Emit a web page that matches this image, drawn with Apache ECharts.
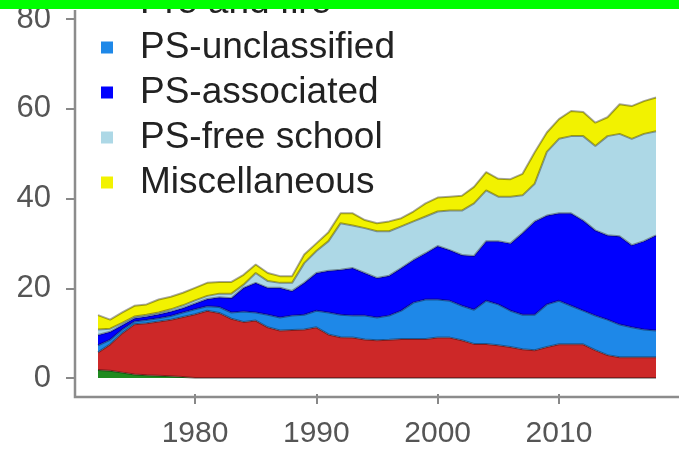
<!DOCTYPE html>
<html>
<head>
<meta charset="utf-8">
<title>Stacked areas</title>
<script src="https://cdn.jsdelivr.net/npm/echarts@6/dist/echarts.min.js"></script>
<style>
  html, body { margin: 0; padding: 0; background: #fff; }
  #chart { width: 679px; height: 449px; }
</style>
</head>
<body>
<div id="chart"></div>
<script>
// years on the x axis
const years = [
  1972, 1973, 1974, 1975, 1976, 1977, 1978, 1979, 1980, 1981,
  1982, 1983, 1984, 1985, 1986, 1987, 1988, 1989, 1990, 1991,
  1992, 1993, 1994, 1995, 1996, 1997, 1998, 1999, 2000, 2001,
  2002, 2003, 2004, 2005, 2006, 2007, 2008, 2009, 2010, 2011,
  2012, 2013, 2014, 2015, 2016, 2017, 2018
]
const yTicks = [0, 20, 40, 60, 80]
const xTicks = [1980, 1990, 2000, 2010]

// bottom layer (green), only in the first years
const greenVals = [
  1.8, 1.6, 1.2, 0.8, 0.6, 0.5, 0.4, 0.2, 0, 0,
  0, 0, 0, 0, 0, 0, 0, 0, 0, 0,
  0, 0, 0, 0, 0, 0, 0, 0, 0, 0,
  0, 0, 0, 0, 0, 0, 0, 0, 0, 0,
  0, 0, 0, 0, 0, 0, 0
]
// red layer (its legend row is cut off at the top)
const redVals = [
  3.9, 5.9, 8.8, 11.2, 11.6, 12.1, 12.6, 13.4, 14.2, 15.0,
  14.5, 13.2, 12.5, 12.8, 11.3, 10.6, 10.7, 10.8, 11.3, 9.7,
  9.1, 9.0, 8.6, 8.4, 8.5, 8.7, 8.7, 8.7, 9.0, 9.0,
  8.4, 7.6, 7.6, 7.3, 6.9, 6.4, 6.2, 6.9, 7.5, 7.5,
  7.5, 6.2, 5.1, 4.6, 4.6, 4.6, 4.6
]
const unclassifiedVals = [
  1.6, 1.0, 0.8, 0.6, 0.7, 0.7, 0.8, 1.0, 1.1, 1.0,
  1.3, 1.4, 2.3, 1.8, 2.8, 2.9, 3.2, 3.3, 3.7, 4.9,
  5.0, 4.9, 5.3, 5.1, 5.4, 6.3, 8.1, 8.8, 8.5, 8.2,
  7.7, 7.6, 9.6, 9.1, 8.1, 7.7, 7.9, 9.5, 9.7, 8.6,
  7.5, 7.7, 7.9, 7.3, 6.7, 6.2, 6.0
]
const associatedVals = [
  2.3, 1.8, 1.0, 0.7, 0.8, 0.9, 1.0, 1.0, 1.3, 1.6,
  2.2, 3.2, 5.3, 6.6, 6.0, 6.6, 5.5, 7.1, 8.4, 9.3,
  10.0, 10.6, 9.5, 8.8, 8.9, 9.5, 9.5, 10.3, 11.9, 11.3,
  11.3, 12.0, 13.3, 14.1, 15.0, 18.2, 20.8, 19.8, 19.5, 20.6,
  20.1, 19.0, 18.8, 19.7, 18.3, 19.7, 21.2
]
const freeSchoolVals = [
  1.2, 0.7, 0.5, 0.4, 0.4, 0.4, 0.5, 0.6, 0.7, 0.7,
  0.8, 1.0, 0.7, 2.2, 1.5, 1.1, 1.8, 4.4, 4.9, 6.6,
  10.4, 9.5, 10.0, 10.4, 9.9, 9.3, 8.6, 8.2, 7.7, 8.8,
  9.9, 11.7, 11.3, 9.9, 10.4, 8.4, 8.4, 14.2, 16.6, 17.2,
  18.8, 18.8, 22.1, 22.8, 23.7, 23.9, 23.2
]
const miscVals = [
  3.2, 2.0, 2.3, 2.4, 2.3, 2.9, 2.8, 2.8, 2.8, 2.9,
  2.6, 2.6, 2.2, 1.9, 1.8, 1.5, 1.5, 1.9, 1.7, 2.0,
  2.2, 2.7, 1.8, 1.8, 2.2, 1.8, 2.2, 2.9, 3.1, 3.1,
  3.3, 3.7, 4.1, 4.0, 3.9, 4.8, 7.0, 4.3, 4.4, 5.6,
  5.4, 5.2, 4.2, 6.6, 7.3, 7.3, 7.5
]

const layers = [
  { name: 'Other', color: '#1f8a1f', values: greenVals },
  { name: 'Pre and fire', color: '#cd2828', values: redVals },
  { name: 'PS-unclassified', color: '#1e88e8', values: unclassifiedVals },
  { name: 'PS-associated', color: '#0000ff', values: associatedVals },
  { name: 'PS-free school', color: '#add8e6', values: freeSchoolVals },
  { name: 'Miscellaneous', color: '#f2f200', values: miscVals }
]

const showYear = (idx, val) => xTicks.includes(Number(val))

const chart = echarts.init(document.getElementById('chart'))

chart.setOption({
  animation: false,
  grid: {
    left: 98,
    right: 23,
    top: 19,
    bottom: 67
  },
  legend: {
    data: layers.slice(1).map(l => l.name),
    orient: 'vertical',
    left: 96,
    top: -21,
    icon: 'rect',
    itemWidth: 12,
    itemHeight: 12,
    itemGap: 8,
    selectedMode: false,
    itemStyle: { borderWidth: 0 },
    textStyle: {
      fontFamily: 'Liberation Sans',
      fontSize: 37,
      lineHeight: 35,
      color: '#222',
      padding: [0, 0, 0, 22]
    }
  },
  xAxis: {
    type: 'category',
    data: years,
    boundaryGap: false,
    offset: 16,
    splitLine: { show: false },
    axisLine: { show: false, onZero: false },
    axisTick: {
      show: true,
      length: 10,
      interval: showYear,
      lineStyle: { color: '#888', width: 2 }
    },
    axisLabel: {
      interval: showYear,
      margin: 25,
      fontFamily: 'Liberation Sans',
      fontSize: 30,
      color: '#555'
    }
  },
  yAxis: {
    type: 'value',
    min: 0,
    max: 80,
    interval: 20,
    offset: 23,
    splitLine: { show: false },
    axisLine: { show: false },
    axisTick: {
      show: true,
      length: 9,
      lineStyle: { color: '#888', width: 2 }
    },
    axisLabel: {
      margin: 24,
      fontFamily: 'Liberation Sans',
      fontSize: 31,
      color: '#555',
      formatter: v => (yTicks.includes(v) ? String(v) : '')
    }
  },
  series: layers.map(l => ({
    name: l.name,
    type: 'line',
    stack: 'total',
    symbol: 'none',
    color: l.color,
    lineStyle: { color: 'rgba(0,0,0,0.35)', width: 2 },
    areaStyle: { color: l.color, opacity: 1 },
    data: l.values
  })),
  graphic: [
    {
      type: 'polyline',
      shape: { points: [[75, 10], [75, 397], [679, 397]] },
      style: { stroke: '#8c8c8c', lineWidth: 2.5, fill: null },
      z: 10
    },
    {
      type: 'rect',
      shape: { x: 0, y: 0, width: 679, height: 9 },
      style: { fill: '#00ff00' },
      z: 20
    }
  ]
})
</script>
</body>
</html>
